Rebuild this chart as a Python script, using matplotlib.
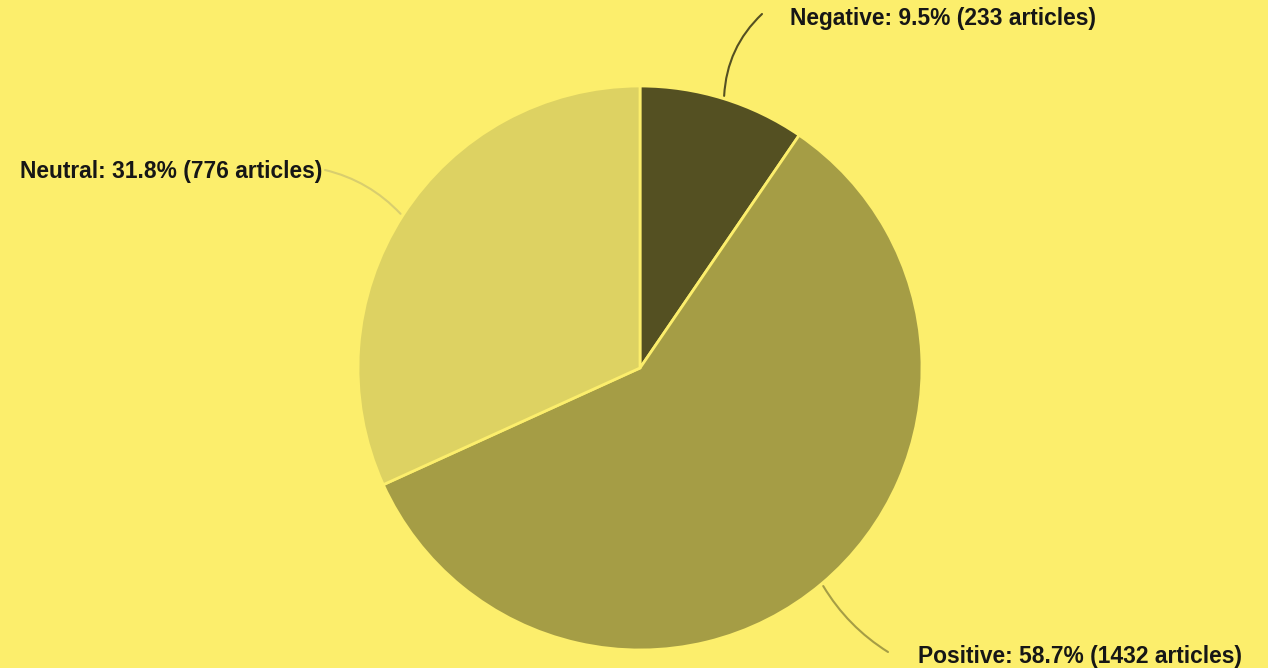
import matplotlib
matplotlib.use('Agg')
import matplotlib.pyplot as plt
import numpy as np

labels = ['Negative', 'Positive', 'Neutral']
articles = [233, 1432, 776]
percents = [9.5, 58.7, 31.8]
colors = ['#545022', '#a59d45', '#ddd262']
bg = '#fcee6c'

W, H = 1268, 668
cx, cy, r = 640, 368, 282

fig = plt.figure(figsize=(W / 100, H / 100), dpi=100)
fig.patch.set_facecolor(bg)
ax = fig.add_axes([(cx - r) / W, (H - cy - r) / H, 2 * r / W, 2 * r / H])
ax.set_facecolor(bg)

wedges, _ = ax.pie(articles, colors=colors, startangle=90, counterclock=False,
                   radius=1.0, wedgeprops=dict(edgecolor=bg, linewidth=2))
ax.set_xlim(-1, 1)
ax.set_ylim(-1, 1)
ax.set_aspect('equal')
ax.axis('off')


def px2d(px, py):
    return (px - cx) / r, (cy - py) / r


# label placement (pixel positions of line end and text anchor)
line_ends = [(762, 14), (888, 652), (325, 170)]
text_pos = [(790, 19, 'left'), (918, 656, 'left'), (322, 172, 'right')]
rads = [0.2, -0.12, -0.15]
line_colors = ['#545022', '#a59d45', '#d9ce6e']

for w, lab, pct, n, le, tp, rad, lc in zip(wedges, labels, percents, articles,
                                          line_ends, text_pos, rads, line_colors):
    ang = np.deg2rad((w.theta1 + w.theta2) / 2)
    xy = (1.01 * np.cos(ang), 1.01 * np.sin(ang))
    ax.annotate('', xy=xy, xytext=px2d(*le), annotation_clip=False,
                arrowprops=dict(arrowstyle='-', color=lc, lw=1.5,
                                connectionstyle=f'arc3,rad={rad}',
                                shrinkA=0, shrinkB=0))
    tx, ty = px2d(tp[0], tp[1])
    ax.text(tx, ty, f'{lab}: {pct}% ({n} articles)', ha=tp[2], va='center',
            fontsize=16.4, fontweight='bold', family='Liberation Sans',
            color='#161616', clip_on=False)

fig.savefig('out.png', dpi=100, facecolor=fig.get_facecolor())
